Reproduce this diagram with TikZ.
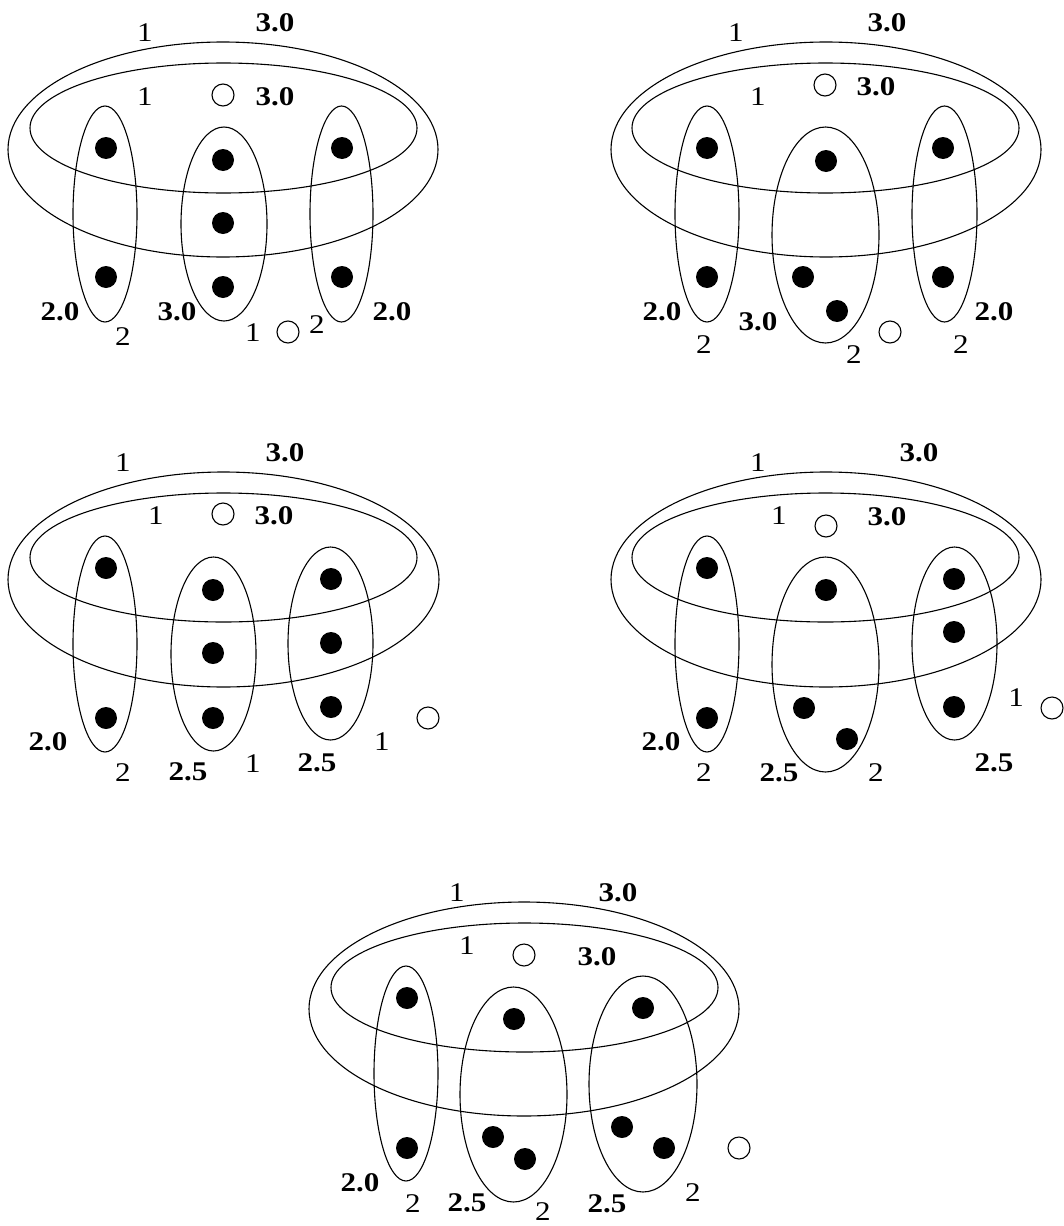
\documentclass[tikz,border=0pt]{standalone}
\usepackage{fontspec}
\setmainfont{Liberation Serif}[FakeStretch=1.15]
\begin{document}
\begin{tikzpicture}
  [x=1pt,y=-1pt,line width=1.1pt,every node/.style={inner sep=0pt}]
  \tikzstyle{dot} = [circle,fill=black,minimum size=22pt]
  \tikzstyle{hole} = [circle,draw,fill=white,minimum size=22pt]
  \tikzstyle{num} = [font=\fontsize{27}{27}\selectfont]
  \tikzstyle{val} = [font=\fontsize{27}{27}\selectfont\bfseries]
  \useasboundingbox (0,0) rectangle (1063,1226);
  % hyperedges
  \foreach \cx/\cy/\rx/\ry in {223/149.5/215/107.5, 223.5/128/193.5/65,
      105/214/32/108, 224/224/43/97, 341.5/214/31.5/108,
      826/149.5/215/107.5, 825.5/128/193.5/65,
      707/214/32/108, 825.5/235/53.5/108, 944.5/214/32.5/108,
      223.5/579.5/215.5/107.5, 223.5/557.5/193.5/64.5,
      105/644/32/108, 213.5/654/42.5/97, 330.5/643.5/42.5/96.5,
      826/579.5/215/107.5, 825.5/557.5/193.5/64.5,
      707/644/32/108, 825.5/664.5/53.5/107.5, 954.5/643.5/42.5/96.5,
      524/1009/215/107, 524.5/987.5/193.5/64.5,
      406/1073.5/32/107.5, 513.5/1094.5/53.5/107.5, 643/1084/54/108}
    \draw (\cx,\cy) ellipse [x radius=\rx, y radius=\ry];
  % vertices
  \foreach \name/\x/\y in {a1/106/148, a2/106/277, a3/223/160, a4/223/223, a5/223/287, a6/342/148, a7/342/277,
      b1/707/148, b2/707/277, b3/826/161, b4/803/277, b5/837/311, b6/943/148, b7/943/277,
      c1/106/568, c2/106/718, c3/213/590, c4/213/653, c5/213/718, c6/331/579, c7/331/643, c8/331/707,
      d1/707/568, d2/707/718, d3/826/590, d4/804/708, d5/847/739, d6/954/579, d7/954/632, d8/954/707,
      e1/407/998, e2/407/1148, e3/514/1019, e4/493/1137, e5/525/1159, e6/643/1008, e7/622/1127, e8/664/1148}
    \node[dot] (\name) at (\x,\y) {};
  \foreach \name/\x/\y in {ha/223/95, hb/288/332, hc/825/85, hd/890/332, he/223/514, hf/428/718,
      hg/826/526, hh/1052/708, hi/524/955, hj/739/1148}
    \node[hole] (\name) at (\x,\y) {};
  % weights
  \foreach \name/\x/\y/\t in {n1/145/33/1, n2/145/97/1, n3/123/337/2, n4/253/333/1, n5/317/325/2,
      n6/736/33/1, n7/758/97/1, n8/704/345/2, n9/854/355/2, n10/961/345/2,
      n11/123/463/1, n12/156/516/1, n13/123/773/2, n14/253/764/1, n15/382/742/1,
      n16/758/463/1, n17/779/516/1, n18/1016/698/1, n19/704/773/2, n20/876/773/2,
      n21/457/893/1, n22/467/946/1, n23/413/1204/2, n24/543/1212/2, n25/693/1193/2}
    \node[num] (\name) at (\x,\y) {\t};
  \foreach \name/\x/\y/\t in {v1/275/23/3.0, v2/275/97/3.0, v3/60/312/2.0, v4/177/312/3.0, v5/392/312/2.0,
      v6/887/23/3.0, v7/876/87/3.0, v8/662/312/2.0, v9/758/322/3.0, v10/994/312/2.0,
      v11/285/453/3.0, v12/274/516/3.0, v13/48/742/2.0, v14/188/772/2.5, v15/317/763/2.5,
      v16/919/453/3.0, v17/887/517/3.0, v18/661/742/2.0, v19/779/773/2.5, v20/994/763/2.5,
      v21/618/893/3.0, v22/597/957/3.0, v23/360/1183/2.0, v24/467/1203/2.5, v25/607/1204/2.5}
    \node[val] (\name) at (\x,\y) {\t};
\end{tikzpicture}
\end{document}
